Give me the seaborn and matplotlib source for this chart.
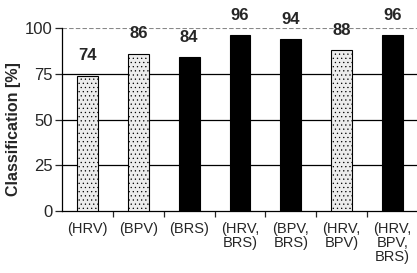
import matplotlib
matplotlib.use('Agg')
import matplotlib.pyplot as plt
import seaborn as sns
import pandas as pd
import numpy as np

labels = ['(HRV)', '(BPV)', '(BRS)', '(HRV,\nBRS)', '(BPV,\nBRS)', '(HRV,\nBPV)', '(HRV,\nBPV,\nBRS)']
values = [74, 86, 84, 96, 94, 88, 96]
has_brs = [False, False, True, True, True, False, True]

sns.set_style('white')
plt.rcParams['font.family'] = ['Liberation Sans', 'DejaVu Sans']
plt.rcParams['hatch.color'] = '#b0b0b0'
plt.rcParams['hatch.linewidth'] = 0.4

df = pd.DataFrame({'set': labels, 'acc': values})
colors = ['black' if b else '#ececec' for b in has_brs]

fig = plt.figure(figsize=(4.17, 2.73), dpi=100)
ax = fig.add_axes([0.149, 0.227, 0.853, 0.670])

sns.barplot(data=df, x='set', y='acc', hue='set', palette=colors, legend=False,
            width=0.41, edgecolor='black', linewidth=0.8, ax=ax, zorder=3)

for p, b in zip(ax.patches, has_brs):
    if not b:
        p.set_hatch('....')
        p._hatch_color = matplotlib.colors.to_rgba('#b0b0b0')
        p.set_edgecolor('black')

for i, v in enumerate(values):
    ax.annotate(str(v), (i, v), xytext=(0, 9), textcoords='offset points',
                ha='center', va='bottom', fontsize=12, fontweight='bold')

for y in [25, 50, 75]:
    ax.axhline(y, color='black', lw=0.9, zorder=1)
ax.axhline(100, color='#888888', lw=0.8, ls=(0, (4, 2)), zorder=1)

ax.set_ylim(0, 100)
ax.set_xlim(-0.5, 6.5)
ax.set_yticks([0, 25, 50, 75, 100])
ax.tick_params(axis='y', labelsize=12, length=5, width=0.9, direction='out', left=True, pad=2)
ax.set_xticks(np.arange(7))
ax.set_xticklabels(labels, fontsize=10.5, linespacing=1.0)
ax.tick_params(axis='x', length=0, pad=8)
ax.set_xticks(np.arange(7) + 0.5, minor=True)
ax.tick_params(axis='x', which='minor', length=4, width=0.9, bottom=True, direction='out')
ax.set_xlabel('')
ax.set_ylabel('Classification [%]', fontsize=11.5, fontweight='bold')
ax.yaxis.set_label_coords(-0.115, 0.45)

for s in ['top', 'right']:
    ax.spines[s].set_visible(False)
for s in ['left', 'bottom']:
    ax.spines[s].set_color('black')
    ax.spines[s].set_linewidth(0.9)

fig.savefig('out.png', dpi=100)
